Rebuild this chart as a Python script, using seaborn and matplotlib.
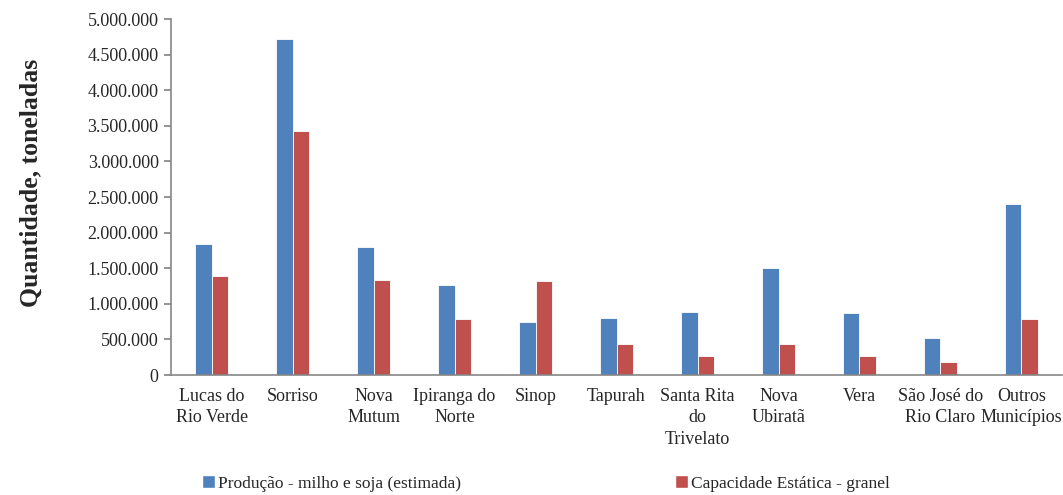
import matplotlib
matplotlib.use("Agg")
import matplotlib.pyplot as plt
import seaborn as sns
import pandas as pd
from matplotlib.ticker import FuncFormatter, MultipleLocator
from matplotlib.patches import Patch

municipios = ["Lucas do\nRio Verde", "Sorriso", "Nova\nMutum", "Ipiranga do\nNorte", "Sinop",
              "Tapurah", "Santa Rita\ndo\nTrivelato", "Nova\nUbiratã", "Vera",
              "São José do\nRio Claro", "Outros\nMunicípios"]
producao = [1840000, 4720000, 1800000, 1265000, 745000, 800000, 890000, 1500000, 870000, 520000, 2405000]
capacidade = [1390000, 3430000, 1335000, 790000, 1320000, 435000, 270000, 435000, 270000, 180000, 790000]
serie_prod = "Produção - milho e soja (estimada)"
serie_cap = "Capacidade Estática - granel"

df = pd.DataFrame({
    "Município": municipios * 2,
    "Valor": producao + capacidade,
    "Série": [serie_prod] * len(municipios) + [serie_cap] * len(municipios),
})

sns.set_theme(style="white")
plt.rcParams["font.family"] = ["Liberation Serif", "DejaVu Serif"]

colors = {serie_prod: "#4F81BD", serie_cap: "#C0504D"}

fig = plt.figure(figsize=(10.63, 4.95), dpi=100)
ax = fig.add_axes([0.161, 0.2424, 0.838, 0.7192])
sns.barplot(data=df, x="Município", y="Valor", hue="Série", palette=colors,
            width=0.4, ax=ax, legend=False, saturation=1, edgecolor="white", linewidth=0.6)

ax.set_ylim(0, 5000000)
ax.set_xlim(-0.5, len(municipios) - 0.5)
ax.yaxis.set_major_locator(MultipleLocator(500000))
ax.yaxis.set_major_formatter(FuncFormatter(lambda v, p: f"{v:,.0f}".replace(",", ".")))
ax.set_xlabel("")
ax.set_ylabel("Quantidade, toneladas", fontsize=18.5, fontweight="bold")
ax.yaxis.set_label_coords(-0.144, 0.54)

for s in ["top", "right"]:
    ax.spines[s].set_visible(False)
for s in ["left", "bottom"]:
    ax.spines[s].set_color("#868686")
    ax.spines[s].set_linewidth(1.2)

ax.tick_params(axis="y", direction="out", length=5, color="#868686", labelsize=13, left=True, pad=4)
ax.tick_params(axis="x", length=0, labelsize=13, pad=9)
for lab in ax.get_xticklabels():
    lab.set_horizontalalignment("center")
    lab.set_verticalalignment("top")
    lab.set_linespacing(1.35)

handles = [Patch(facecolor=colors[serie_prod]), Patch(facecolor=colors[serie_cap])]
fig.legend(handles, [serie_prod, serie_cap], loc="lower left", bbox_to_anchor=(0.175, -0.025),
           ncol=2, frameon=False, fontsize=12.5, handlelength=0.75, handleheight=0.75,
           handletextpad=0.2, columnspacing=12.3)

fig.savefig("out.png", dpi=100)
